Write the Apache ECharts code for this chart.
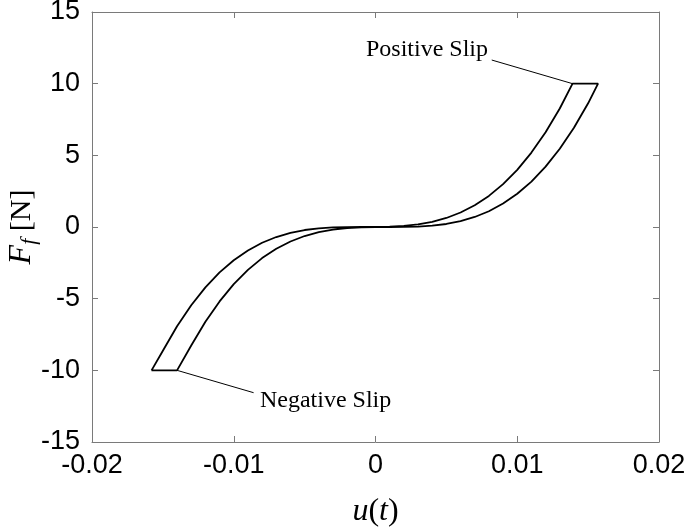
<!DOCTYPE html>
<html><head><meta charset="utf-8">
<script src="https://cdn.jsdelivr.net/npm/echarts@6/dist/echarts.min.js"></script>
<style>html,body{margin:0;padding:0;background:#fff}#c{width:685px;height:528px}</style>
</head><body><div id="c"></div>
<script>
// Branch rising on the left (loading toward positive slip): [u, F]
const branchUp = [[-0.0158,-10],[-0.015,-8.63],[-0.014,-6.92],[-0.013,-5.46],[-0.012,-4.21],[-0.011,-3.17],[-0.010,-2.32],[-0.009,-1.64],[-0.008,-1.10],[-0.007,-0.70],[-0.006,-0.41],[-0.005,-0.21],[-0.004,-0.09],[-0.003,-0.03],[-0.002,-0.004],[-0.001,0],[0,0.002],[0.001,0.02],[0.002,0.075],[0.003,0.18],[0.004,0.36],[0.005,0.63],[0.006,1.01],[0.007,1.52],[0.008,2.17],[0.009,2.99],[0.010,3.99],[0.011,5.19],[0.012,6.61],[0.013,8.27],[0.0139,10]];
// Positive slip plateau
const slipPos = [[0.0139,10],[0.0157,10]];
// Branch on the right (unloading toward negative slip)
const branchDown = [[0.0157,10],[0.015,8.63],[0.014,6.92],[0.013,5.46],[0.012,4.21],[0.011,3.17],[0.010,2.32],[0.009,1.64],[0.008,1.10],[0.007,0.70],[0.006,0.41],[0.005,0.21],[0.004,0.09],[0.003,0.03],[0.002,0.004],[0.001,0],[0,-0.002],[-0.001,-0.02],[-0.002,-0.075],[-0.003,-0.18],[-0.004,-0.36],[-0.005,-0.63],[-0.006,-1.01],[-0.007,-1.52],[-0.008,-2.17],[-0.009,-2.99],[-0.010,-3.99],[-0.011,-5.19],[-0.012,-6.61],[-0.013,-8.27],[-0.0140,-10]];
// Negative slip plateau
const slipNeg = [[-0.0140,-10],[-0.0158,-10]];

const xTicks = [-0.02,-0.01,0,0.01,0.02];
const yTicks = [-15,-10,-5,0,5,10,15];

const annPos = {text:'Positive Slip', at:[0.0139,10], label:[0.0082,11.65], textAt:[-0.00067,12.35]};
const annNeg = {text:'Negative Slip', at:[-0.0140,-10], label:[-0.0086,-11.56], textAt:[-0.00815,-12.1]};

const loop = branchUp.concat(slipPos.slice(1), branchDown.slice(1), slipNeg.slice(1));

const axisCol = '#7a7a7a';
const lblFont = {color:'#000', fontFamily:'Liberation Sans, Arial, sans-serif', fontSize:27};
const chart = echarts.init(document.getElementById('c'), null, {renderer:'canvas'});
function fmtX(v){ return v===0 ? '0' : String(v); }
const option = {
  animation:false,
  grid:{left:92, right:26, top:12, bottom:86, containLabel:false, outerBoundsMode:'none'},
  xAxis:[{
    type:'value', min:xTicks[0], max:xTicks[xTicks.length-1], interval:0.01,
    axisLine:{show:true, onZero:false, lineStyle:{color:axisCol, width:1}},
    axisTick:{show:true, inside:true, length:6, lineStyle:{color:axisCol}},
    axisLabel:Object.assign({margin:10, formatter:fmtX}, lblFont),
    splitLine:{show:false},
    name:'{i|u}{n|(}{i|t}{n|)}', nameLocation:'middle', nameGap:54,
    nameTextStyle:{rich:{
      i:{fontFamily:'Liberation Serif, Times New Roman, serif', fontStyle:'italic', fontSize:32, color:'#000'},
      n:{fontFamily:'Liberation Serif, Times New Roman, serif', fontSize:32, color:'#000'}}}
  },{
    type:'value', position:'top', min:xTicks[0], max:xTicks[xTicks.length-1], interval:0.01,
    axisLine:{show:true, onZero:false, lineStyle:{color:axisCol, width:1}},
    axisTick:{show:true, inside:true, length:6, lineStyle:{color:axisCol}},
    axisLabel:{show:false}, splitLine:{show:false}
  }],
  yAxis:[{
    type:'value', min:yTicks[0], max:yTicks[yTicks.length-1], interval:5,
    axisLine:{show:true, onZero:false, lineStyle:{color:axisCol, width:1}},
    axisTick:{show:true, inside:true, length:6, lineStyle:{color:axisCol}},
    axisLabel:Object.assign({margin:12}, lblFont),
    splitLine:{show:false},
    name:'{i|F}{s|f}{n| [N]}', nameLocation:'middle', nameGap:52, nameMoveOverlap:false,
    nameTextStyle:{rich:{
      i:{fontFamily:'Liberation Serif, Times New Roman, serif', fontStyle:'italic', fontSize:32, color:'#000'},
      s:{fontFamily:'Liberation Serif, Times New Roman, serif', fontStyle:'italic', fontSize:22, color:'#000', padding:[14,0,0,0]},
      n:{fontFamily:'Liberation Serif, Times New Roman, serif', fontSize:30, color:'#000'}}}
  },{
    type:'value', position:'right', min:yTicks[0], max:yTicks[yTicks.length-1], interval:5,
    axisLine:{show:true, onZero:false, lineStyle:{color:axisCol, width:1}},
    axisTick:{show:true, inside:true, length:6, lineStyle:{color:axisCol}},
    axisLabel:{show:false}, splitLine:{show:false}
  }],
  series:[{
    type:'line', data:loop, showSymbol:false, symbol:'none', smooth:false,
    lineStyle:{color:'#000', width:1.8}, z:3,
    markLine:{silent:true, symbol:['none','none'], label:{show:false},
      lineStyle:{color:'#000', width:1, type:'solid'},
      data:[[{coord:annPos.at},{coord:annPos.label}],[{coord:annNeg.at},{coord:annNeg.label}]]}
  }]
};
chart.setOption(option);
function place(){
  const p1 = chart.convertToPixel({gridIndex:0}, annPos.textAt);
  const p2 = chart.convertToPixel({gridIndex:0}, annNeg.textAt);
  const st = {fill:'#000', font:'24px "Liberation Serif", "Times New Roman", serif', textVerticalAlign:'middle', textAlign:'left'};
  chart.setOption({graphic:[
    {type:'text', x:p1[0], y:p1[1], style:Object.assign({text:annPos.text}, st)},
    {type:'text', x:p2[0], y:p2[1], style:Object.assign({text:annNeg.text}, st)}
  ]});
}
place();
</script></body></html>
